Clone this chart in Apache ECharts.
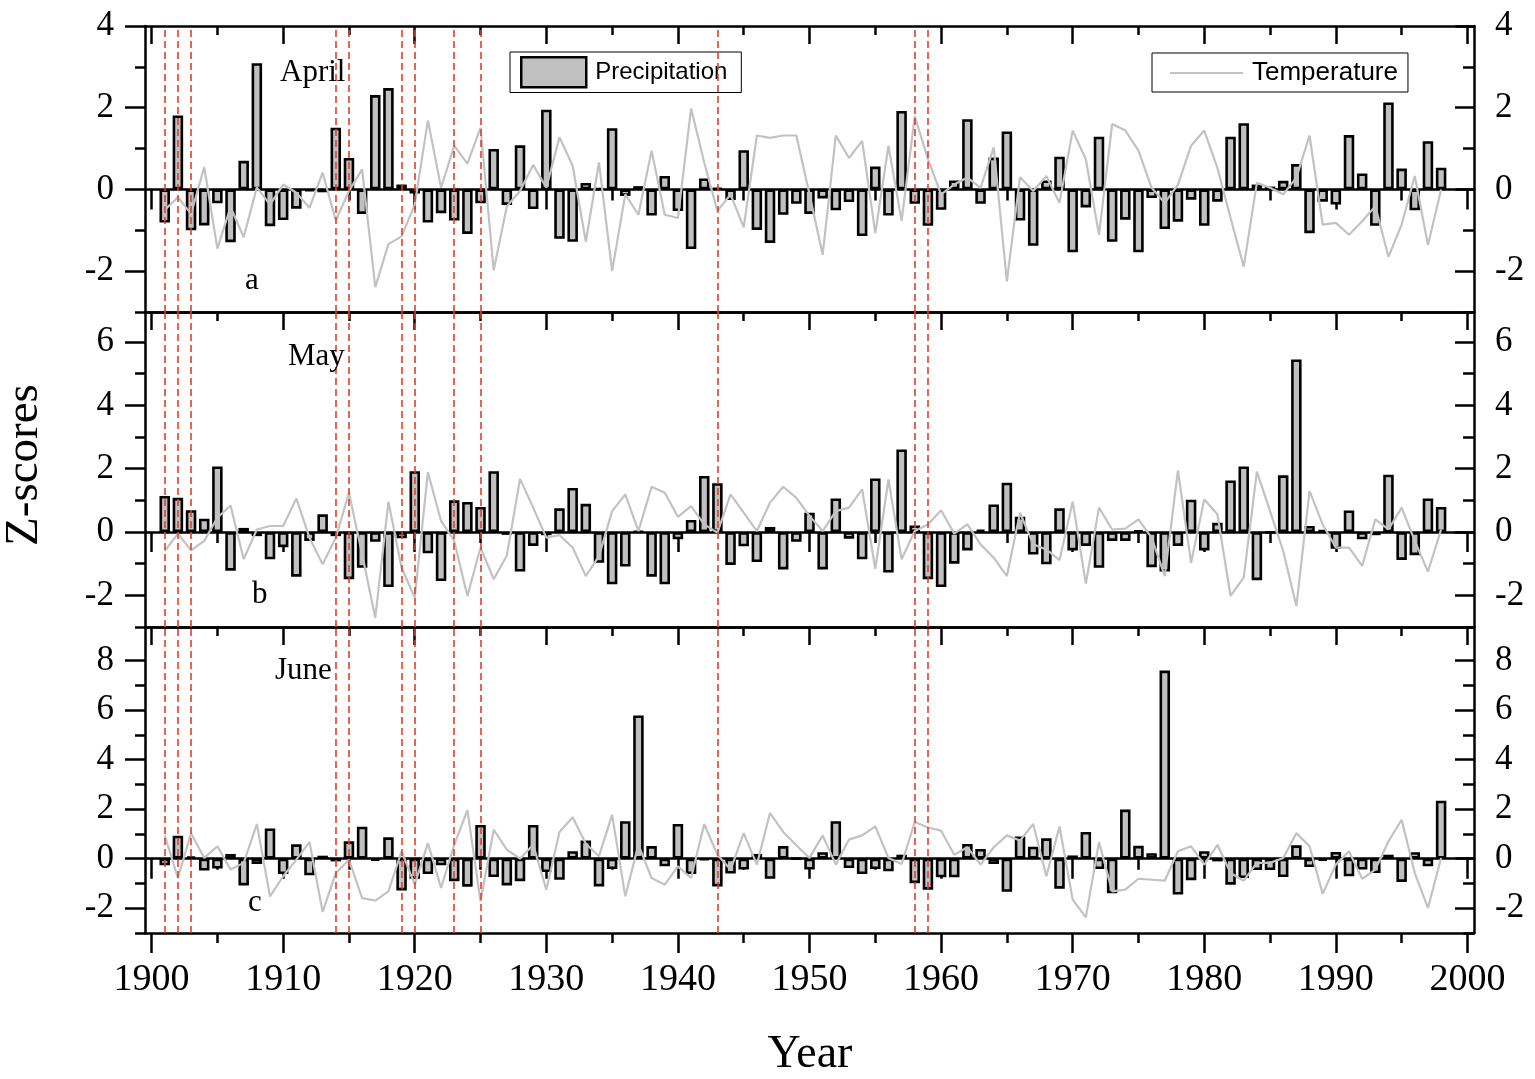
<!DOCTYPE html>
<html>
<head>
<meta charset="utf-8">
<script src="https://cdn.jsdelivr.net/npm/echarts@6/dist/echarts.min.js"></script>
<style>html,body{margin:0;padding:0;background:#fff}#chart{width:1535px;height:1079px}</style>
</head>
<body>
<div id="chart"></div>
<script>
// ---------- data ----------
const firstYear = 1901, lastYear = 1998;
const years = [];
for (let y = firstYear; y <= lastYear; y++) years.push(y);

const aprilPrecip = [
 -0.81, 1.81, -1.00, -0.88, -0.34, -1.29, 0.70, 3.09, -0.90, -0.75,
 -0.47, -0.04, -0.07, 1.51, 0.77, -0.60, 2.31, 2.48, 0.12, -0.10,
 -0.81, -0.58, -0.76, -1.09, -0.34, 0.99, -0.38, 1.08, -0.48, 1.95,
 -1.21, -1.28, 0.16, 0.02, 1.50, -0.16, 0.08, -0.64, 0.33, -0.53,
 -1.46, 0.27, 0.03, -0.26, 0.96, -0.99, -1.31, -0.62, -0.35, -0.60,
 -0.22, -0.51, -0.31, -1.14, 0.56, -0.64, 1.92, -0.35, -0.89, -0.50,
 0.22, 1.72, -0.35, 0.78, 1.42, -0.76, -1.38, 0.22, 0.80, -1.54,
 -0.44, 1.29, -1.28, -0.74, -1.54, -0.21, -0.97, -0.79, -0.25, -0.89,
 -0.30, 1.29, 1.62, 0.12, 0.07, 0.21, 0.62, -1.07, -0.30, -0.37,
 1.33, 0.39, -0.89, 2.13, 0.51, -0.51, 1.18, 0.53];
const aprilTemp = [
 -0.50, -0.19, -0.60, 0.55, -1.45, -0.43, -1.17, 0.05, -0.37, 0.12,
 -0.08, -0.45, 0.41, -0.76, -0.04, 0.49, -2.39, -1.34, -1.15, -0.37,
 1.69, 0.04, 1.07, 0.63, 1.51, -1.98, -0.41, -0.04, 0.60, 0.04,
 1.28, 0.58, -1.28, 0.66, -2.00, -0.12, -0.62, 0.95, -0.62, -0.70,
 1.98, 0.66, -0.53, -0.12, -0.93, 1.32, 1.26, 1.32, 1.32, -0.12,
 -1.60, 1.32, 0.77, 1.19, -1.07, 1.07, -0.77, 1.79, 0.74, -0.12,
 0.12, 0.29, 0.04, 1.03, -2.25, 0.30, -0.04, 0.33, -0.33, 1.44,
 0.74, -1.11, 1.60, 1.44, 0.95, 0.04, -0.33, 0.12, 1.07, 1.44,
 0.53, -0.70, -1.89, 0.16, 0.04, -0.12, 0.29, 1.32, -0.86, -0.82,
 -1.11, -0.78, -0.41, -1.65, -0.86, 0.33, -1.36, 0.00];

const mayPrecip = [
 1.14, 1.08, 0.69, 0.42, 2.07, -1.22, 0.13, -0.13, -0.86, -0.48,
 -1.41, -0.28, 0.56, -0.13, -1.49, -1.13, -0.31, -1.74, -0.20, 1.92,
 -0.67, -1.55, 1.00, 0.95, 0.79, 1.92, -0.09, -1.25, -0.44, -0.10,
 0.75, 1.39, 0.89, -0.97, -1.65, -1.09, 0.02, -1.41, -1.65, -0.23,
 0.38, 1.77, 1.54, -1.04, -0.45, -0.95, 0.16, -1.18, -0.31, 0.61,
 -1.18, 1.06, -0.21, -0.86, 1.69, -1.28, 2.61, 0.21, -1.49, -1.74,
 -1.00, -0.58, 0.08, 0.87, 1.56, 0.48, -0.71, -1.02, 0.75, -0.58,
 -0.44, -1.13, -0.28, -0.28, 0.05, -1.11, -1.25, -0.44, 1.02, -0.58,
 0.29, 1.63, 2.07, -1.52, -0.02, 1.79, 5.45, 0.19, 0.06, -0.53,
 0.68, -0.23, -0.10, 1.81, -0.88, -0.73, 1.06, 0.79];
const mayTemp = [
 -0.60, -0.05, -0.58, -0.28, 0.45, 0.84, -0.86, 0.08, 0.19, 0.19,
 1.06, -0.18, -1.02, -0.18, 1.24, -0.70, -2.71, 0.96, -1.13, -2.07,
 1.89, 0.35, -0.28, -2.02, -0.49, -1.49, -0.74, 1.68, 0.77, -0.18,
 -0.10, -0.49, -1.39, -0.76, 0.66, 1.19, 0.03, 1.43, 1.24, 0.48,
 0.82, 0.24, -0.02, 1.19, 0.61, 0.03, 0.93, 1.43, 1.08, 0.51,
 0.03, 0.66, 0.77, 1.35, -1.16, 1.66, -0.86, 0.03, 0.24, 0.69,
 -0.05, 0.24, -0.39, -0.81, -1.39, 0.61, -0.39, -0.55, -0.89, 0.96,
 -1.63, 0.77, 0.08, 0.11, 0.40, -0.18, -1.39, 1.95, -0.97, 1.03,
 0.56, -2.02, -1.44, 1.91, 0.66, -0.60, -2.34, 1.29, 0.24, -0.49,
 -0.49, -1.07, 0.40, 0.08, 0.77, -0.28, -1.25, 0.08];

const junePrecip = [
 -0.27, 0.93, 0.09, -0.48, -0.40, 0.19, -1.08, -0.22, 1.22, -0.62,
 0.58, -0.67, 0.12, -0.11, 0.70, 1.29, -0.08, 0.86, -1.28, -0.81,
 -0.62, -0.27, -0.91, -1.13, 1.36, -0.74, -1.08, -0.91, 1.36, -0.54,
 -0.85, 0.30, 0.73, -1.12, -0.42, 1.51, 5.78, 0.51, -0.31, 1.40,
 -0.62, -0.05, -1.12, -0.60, -0.44, 0.19, -0.81, 0.51, 0.00, -0.44,
 0.26, 1.51, -0.38, -0.62, -0.42, -0.51, 0.16, -0.99, -1.25, -0.75,
 -0.75, 0.59, 0.39, -0.22, -1.34, 0.89, 0.48, 0.82, -1.21, 0.13,
 1.08, -0.42, -1.40, 1.98, 0.52, 0.22, 7.59, -1.45, -0.87, 0.30,
 -0.11, -1.05, -0.78, -0.46, -0.46, -0.74, 0.54, -0.34, -0.08, 0.27,
 -0.71, -0.44, -0.58, 0.16, -0.94, 0.26, -0.31, 2.34];
const juneTemp = [
 0.94, -0.78, 1.03, 0.03, 0.50, -0.44, -0.17, 1.40, -1.52, -0.71,
 -0.04, 0.67, -2.15, -0.58, -0.04, -1.59, -1.69, -1.32, 0.30, -1.05,
 0.63, -1.18, 0.56, 1.96, -1.72, 1.17, 0.36, 0.00, 0.56, -1.25,
 1.08, 1.67, 0.60, 0.10, 1.77, -1.52, 0.56, -0.78, -1.05, -0.31,
 -0.78, 1.40, 0.16, -0.44, 1.03, -0.24, 1.84, 1.08, 0.54, 0.03,
 0.94, -0.24, 0.77, 0.94, 1.30, 0.03, -0.22, 1.48, 1.26, 1.13,
 0.16, 0.46, -0.24, 0.46, 0.94, 0.73, 1.40, -0.71, 1.30, -1.65,
 -2.37, 0.67, -1.32, -1.25, -0.81, -0.85, -0.89, 0.30, 0.50, -0.24,
 0.56, -0.58, -0.89, -0.17, -0.17, 0.03, 1.03, 0.50, -1.42, -0.24,
 0.30, -0.81, -0.44, 0.70, 1.57, -0.58, -1.99, 0.03];

const markedYears = [1901, 1902, 1903, 1914, 1915, 1919, 1920, 1923, 1925, 1943, 1958, 1959];
const xMajorTicks = [1900, 1910, 1920, 1930, 1940, 1950, 1960, 1970, 1980, 1990, 2000];
const xMinorTicks = [1905, 1915, 1925, 1935, 1945, 1955, 1965, 1975, 1985, 1995];
const yMajorA = [-2, 0, 2, 4],  yMinorA = [-3, -1, 1, 3];
const yMajorB = [-2, 0, 2, 4, 6], yMinorB = [-3, -1, 1, 3, 5];
const yMajorC = [-2, 0, 2, 4, 6, 8], yMinorC = [-3, -1, 1, 3, 5, 7];
const panelLabels = ['April', 'May', 'June'];
const panelLetters = ['a', 'b', 'c'];

// ---------- layout / style ----------
const XMIN = 1899.5, XMAX = 2000.5;
const panels = [
  {top: 26,  height: 286, ymin: -3, ymax: 4,    major: yMajorA, minor: yMinorA, precip: aprilPrecip, temp: aprilTemp},
  {top: 312, height: 315, ymin: -3, ymax: 6.95, major: yMajorB, minor: yMinorB, precip: mayPrecip,   temp: mayTemp},
  {top: 627, height: 306, ymin: -3, ymax: 9.35, major: yMajorC, minor: yMinorC, precip: junePrecip,  temp: juneTemp}
];
const SERIF = '"Liberation Serif","Times New Roman",serif';
const SANS = '"Liberation Sans",Arial,sans-serif';
const BLACK = '#000';
const LW = 2.5;
const axisLine = (show, onZero) => ({show: show, onZero: !!onZero, lineStyle: {color: BLACK, width: LW}});
const tick = (vals, len, inside) => ({show: true, customValues: vals, length: len, inside: inside, lineStyle: {color: BLACK, width: LW}});
const noTick = {show: false};
const noLabel = {show: false};

const grids = [], xAxes = [], yAxes = [], series = [];
panels.forEach((p, i) => {
  grids.push({left: 145, width: 1329, top: p.top, height: p.height, outerBoundsMode: 'none', containLabel: false});
  const base = {type: 'value', gridIndex: i, min: XMIN, max: XMAX, splitLine: {show: false}, minorTick: {show: false}};
  const isLast = i === panels.length - 1;
  // bottom border (with year labels on the last panel)
  xAxes.push(Object.assign({}, base, {
    position: 'bottom', axisLine: axisLine(true, false),
    axisTick: isLast ? tick(xMajorTicks, 20, false) : noTick,
    axisLabel: isLast ? {show: true, customValues: xMajorTicks, formatter: v => String(v), fontFamily: SERIF, fontSize: 38, color: BLACK, margin: 28} : noLabel
  }));
  xAxes.push(Object.assign({}, base, {
    position: 'bottom', axisLine: axisLine(false, false),
    axisTick: isLast ? tick(xMinorTicks, 10, false) : noTick, axisLabel: noLabel
  }));
  // top border, inward ticks
  xAxes.push(Object.assign({}, base, {position: 'top', axisLine: axisLine(true, false), axisTick: tick(xMajorTicks, 18, true), axisLabel: noLabel}));
  xAxes.push(Object.assign({}, base, {position: 'top', axisLine: axisLine(false, false), axisTick: tick(xMinorTicks, 9, true), axisLabel: noLabel}));
  // zero line with downward ticks
  xAxes.push(Object.assign({}, base, {position: 'bottom', axisLine: axisLine(true, true), axisTick: tick(xMajorTicks, 20, false), axisLabel: noLabel}));
  xAxes.push(Object.assign({}, base, {position: 'bottom', axisLine: axisLine(false, true), axisTick: tick(xMinorTicks, 11, false), axisLabel: noLabel}));

  const ybase = {type: 'value', gridIndex: i, min: p.ymin, max: p.ymax, splitLine: {show: false}, minorTick: {show: false}};
  yAxes.push(Object.assign({}, ybase, {
    position: 'left', axisLine: axisLine(true, false), axisTick: tick(p.major, 20, false),
    axisLabel: {show: true, customValues: p.major, fontFamily: SERIF, fontSize: 35, color: BLACK, margin: 31}
  }));
  yAxes.push(Object.assign({}, ybase, {position: 'left', axisLine: axisLine(false, false), axisTick: tick(p.minor, 10, false), axisLabel: noLabel}));
  yAxes.push(Object.assign({}, ybase, {
    position: 'right', axisLine: axisLine(true, false), axisTick: tick(p.major, 19, true),
    axisLabel: {show: true, customValues: p.major, fontFamily: SERIF, fontSize: 35, color: BLACK, margin: 21}
  }));
  yAxes.push(Object.assign({}, ybase, {position: 'right', axisLine: axisLine(false, false), axisTick: tick(p.minor, 11, true), axisLabel: noLabel}));

  series.push({
    type: 'bar', name: 'Precipitation', xAxisIndex: i * 6, yAxisIndex: i * 4,
    data: years.map((y, k) => [y, p.precip[k]]),
    barWidth: 10.5,
    itemStyle: {color: '#c0c0c0', borderColor: BLACK, borderWidth: 2.6},
    markLine: {
      silent: true, symbol: ['none', 'none'], label: {show: false},
      lineStyle: {color: '#d9432b', width: 1.6, type: [7, 4]},
      data: markedYears.map(y => ({xAxis: y}))
    },
    z: 2
  });
  series.push({
    type: 'line', name: 'Temperature', xAxisIndex: i * 6, yAxisIndex: i * 4,
    data: years.map((y, k) => [y, p.temp[k]]),
    symbol: 'none', lineStyle: {color: '#c2c2c2', width: 2.2}, itemStyle: {color: '#c2c2c2'}, z: 3
  });
});

const graphics = [];
const textPos = [[280, 73], [288, 357], [275, 671]];
const letterPos = [[245, 281], [252, 595], [248, 903]];
panelLabels.forEach((t, i) => graphics.push({type: 'text', x: textPos[i][0], y: textPos[i][1], z: 10,
  style: {text: t, font: '31px ' + SERIF, fill: BLACK, align: 'left', verticalAlign: 'middle'}}));
panelLetters.forEach((t, i) => graphics.push({type: 'text', x: letterPos[i][0], y: letterPos[i][1], z: 10,
  style: {text: t, font: '31px ' + SERIF, fill: BLACK, align: 'left', verticalAlign: 'middle'}}));
graphics.push({type: 'text', x: 25, y: 465, rotation: Math.PI / 2, z: 10,
  style: {text: 'Z-scores', font: '47px ' + SERIF, fill: BLACK, align: 'center', verticalAlign: 'middle'}});
graphics.push({type: 'text', x: 810, y: 1055, z: 10,
  style: {text: 'Year', font: '46px ' + SERIF, fill: BLACK, align: 'center', verticalAlign: 'middle'}});

const chart = echarts.init(document.getElementById('chart'), null, {renderer: 'canvas'});
chart.setOption({
  animation: false,
  backgroundColor: '#fff',
  grid: grids,
  xAxis: xAxes,
  yAxis: yAxes,
  legend: [
    {data: [{name: 'Precipitation', icon: 'rect'}], left: 510, top: 52, padding: [4, 14, 4, 10], itemWidth: 65, itemHeight: 30,
     borderColor: BLACK, borderWidth: 1, borderRadius: 0, backgroundColor: '#fff', selectedMode: false,
     itemStyle: {color: '#c0c0c0', borderColor: BLACK, borderWidth: 2.5},
     textStyle: {fontFamily: SANS, fontSize: 24, color: BLACK, padding: [0, 0, 0, 4]}},
    {data: [{name: 'Temperature', icon: 'rect'}], left: 1152, top: 53, padding: [7, 10, 6, 18], itemWidth: 73, itemHeight: 2,
     borderColor: BLACK, borderWidth: 1, borderRadius: 0, backgroundColor: '#fff', selectedMode: false,
     itemStyle: {color: '#c2c2c2', borderWidth: 0},
     lineStyle: {width: 0, opacity: 0},
     textStyle: {fontFamily: SANS, fontSize: 26, color: BLACK, padding: [0, 0, 0, 4], lineHeight: 26}}
  ],
  graphic: graphics,
  series: series
});
</script>
</body>
</html>
